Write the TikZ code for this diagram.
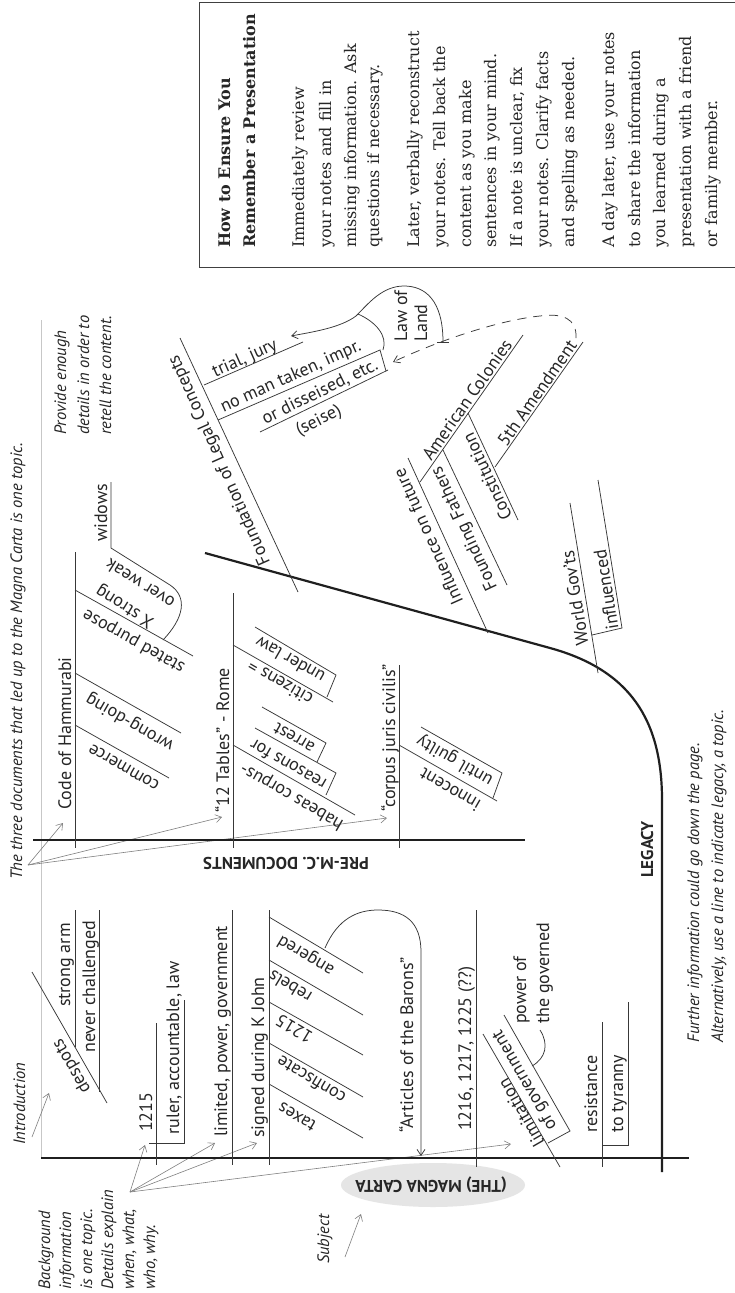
\documentclass[tikz,border=0pt]{standalone}
\usepackage{fontspec}
\setmainfont{PT Sans}
\newfontfamily\boxfont{DejaVu Serif}
\usetikzlibrary{arrows.meta}
\begin{document}
\begin{tikzpicture}[x=1pt,y=-1pt,
  ln/.style={draw=black!78, line width=0.75pt},
  thk/.style={draw=black!88, line width=2.2pt},
  ann/.style={draw=black!50, line width=0.6pt, -{Straight Barb[length=6pt,width=8pt]}},
  arr/.style={-{Straight Barb[length=6pt,width=8pt]}},
  dg/.style={font=\fontsize{18}{22}\selectfont, inner sep=0pt, text=black!85},
  ital/.style={font=\fontsize{16.5}{20}\selectfont\itshape, inner sep=0pt, text=black!85},
  bx/.style={font=\boxfont\fontsize{16}{20}\selectfont, inner sep=0pt, text=black!85},
  bxb/.style={font=\boxfont\bfseries\fontsize{16}{20}\selectfont, inner sep=0pt, text=black!85},
  lbl/.style={font=\bfseries\fontsize{17}{20}\selectfont, inner sep=0pt, text=black!85},
  vt/.style={rotate=90, anchor=base west},
]
\useasboundingbox (0,0) rectangle (735,1293);
\fill[white] (0,0) rectangle (735,1293);

% ---------- info box ----------
\draw[draw=black!75, line width=0.7pt] (199,2) rectangle (745,267);
\node[bxb,vt] (h1) at (230,248) {How to Ensure You};
\node[bxb,vt] (h2) at (255,248) {Remember a Presentation};
\node[bx,vt] (p1) at (304,248) {Immediately review};
\node[bx,vt] (p2) at (331,248) {your notes and fill in};
\node[bx,vt] (p3) at (356,248) {missing information. Ask};
\node[bx,vt] (p4) at (379,248) {questions if necessary.};
\node[bx,vt] (q1) at (419,248) {Later, verbally reconstruct};
\node[bx,vt] (q2) at (445,248) {your notes. Tell back the};
\node[bx,vt] (q3) at (471,248) {content as you make};
\node[bx,vt] (q4) at (496,248) {sentences in your mind.};
\node[bx,vt] (q5) at (522,248) {If a note is unclear, fix};
\node[bx,vt] (q6) at (548,248) {your notes. Clarify facts};
\node[bx,vt] (q7) at (574,248) {and spelling as needed.};
\node[bx,vt] (r1) at (614,248) {A day later, use your notes};
\node[bx,vt] (r2) at (640,248) {to share the information};
\node[bx,vt] (r3) at (665,248) {you learned during a};
\node[bx,vt] (r4) at (691,248) {presentation with a friend};
\node[bx,vt] (r5) at (717,248) {or family member.};

% ---------- annotations ----------
\draw[black!22, line width=0.8pt] (41,320) -- (41,1158);
\node[ital,vt] (three) at (22,880) {The three documents that led up to the Magna Carta is one topic.};
\node[ital,vt] (prov1) at (66,435) {Provide enough};
\node[ital,vt] (prov2) at (89,435) {details in order to};
\node[ital,vt] (prov3) at (111,435) {retell the content.};
\node[ital,vt] (intro) at (25,1145) {Introduction};
\node[ital,vt] (subj) at (329,1264) {Subject};
\node[ital,vt] (bg1) at (50,1290) {Background};
\node[ital,vt] (bg2) at (71,1290) {information};
\node[ital,vt] (bg3) at (92,1290) {is one topic.};
\node[ital,vt] (bg4) at (113,1290) {Details explain};
\node[ital,vt] (bg5) at (134,1290) {when, what,};
\node[ital,vt] (bg6) at (155,1290) {who, why.};
\node[ital,vt] (fur1) at (699,1043) {Further information could go down the page.};
\node[ital,vt] (fur2) at (723,1043) {Alternatively, use a line to indicate legacy, a topic.};

\coordinate (o1) at (28,865);
\coordinate (t1) at (63,823);
\coordinate (t2) at (222,817);
\coordinate (t3) at (387,818);
\draw[ann] (o1) -- (t1);
\draw[ann] (o1) -- (t2);
\draw[ann] (o1) -- (t3);
\coordinate (o2) at (130,1192);
\coordinate (b1) at (145,1145);
\coordinate (b2) at (215,1143);
\coordinate (b3) at (257,1143);
\coordinate (b4) at (511,1144);
\draw[ann] (o2) -- (b1);
\draw[ann] (o2) -- (b2);
\draw[ann] (o2) -- (b3);
\draw[ann] (o2) -- (b4);
\coordinate (io) at (32,1137);
\coordinate (it) at (49,1093);
\draw[ann] (io) -- (it);
\coordinate (so) at (345,1257);
\coordinate (st) at (361,1214);
\draw[ann] (so) -- (st);

% ---------- main spines ----------
\draw[thk] (33,840) -- (525,840);
\draw[thk] (41,1158) -- (689,1158);
\draw[thk] (205,553) -- (550,648) .. controls (630,670) and (662,720) .. (662,800) -- (662,1172);

\node[lbl,rotate=180] (pre) at (286,863) {PRE-M.C. DOCUMENTS};
\fill[black!10] (433,1185) ellipse [x radius=92, y radius=22];
\node[lbl,rotate=180] (mc) at (431,1185) {(THE) MAGNA CARTA};
\node[lbl,vt] (legacy) at (653,878) {LEGACY};

% ---------- pre-M.C. documents ----------
\draw[ln] (75,552) -- (75,848);
\draw[ln] (233,593) -- (233,848);
\draw[ln] (399,665) -- (399,848);
\node[dg,vt] (code) at (71,810) {Code of Hammurabi};
\node[dg,vt] (tables) at (229,813) {“12 Tables” - Rome};
\node[dg,vt] (corpus) at (395,812) {“corpus juris civilis”};
\node[dg,vt] (widows) at (107,542) {widows};
\draw[ln] (111,482) -- (111,548) -- (170,585) .. controls (188,597) and (184,618) .. (163,640);
\draw[ln] (75,590) -- (193,656);
\draw[ln] (75,673) -- (181,733);
\draw[ln] (75,725) -- (169,778);
\node[dg,rotate=148] (overweak) at (140,584) {over weak};
\node[dg,rotate=148] (xstrong) at (125,606) {X strong};
\node[dg,rotate=151] (stated) at (134,641) {stated purpose};
\node[dg,rotate=150] (wrong) at (130,722) {wrong-doing};
\node[dg,rotate=150] (commerce) at (124,767) {commerce};
\draw[ln] (255,627) -- (336,675) -- (327,697);
\draw[ln] (233,645) -- (333,702);
\draw[ln] (262,707) -- (326,743) -- (317,762);
\draw[ln] (255,728) -- (336,773) -- (326,795);
\draw[ln] (233,745) -- (355,815);
\node[dg,rotate=150] (underlaw) at (290,660) {under law};
\node[dg,rotate=150] (citizens) at (280,683) {citizens =};
\node[dg,rotate=150] (arrest) at (294,738) {arrest};
\node[dg,rotate=150] (reasons) at (288,765) {reasons for};
\node[dg,rotate=150] (habeas) at (292,796) {habeas corpus-};
\draw[ln] (421,727) -- (502,773) -- (493,798);
\draw[ln] (399,745) -- (497,801);
\node[dg,rotate=150] (until) at (455,760) {until guilty};
\node[dg,rotate=150] (innocent) at (450,790) {innocent};

% ---------- the Magna Carta ----------
\draw[ln] (32,972) -- (107,1103);
\node[dg,rotate=120] (despots) at (72,1066) {despots};
\draw[ln] (75,910) -- (75,1047);
\draw[ln] (99,910) -- (99,1092);
\node[dg,vt] (strong) at (70,1007) {strong arm};
\node[dg,vt] (never) at (95,1053) {never challenged};
\draw[ln] (156,1023) -- (156,1165);
\draw[ln] (149,1143) -- (184,1143) -- (184,1000);
\node[dg,vt] (y1215) at (152,1132) {1215};
\node[dg,vt] (ruler) at (179,1135) {ruler, accountable, law};
\draw[ln] (232,910) -- (232,1165);
\node[dg,vt] (limited) at (227,1137) {limited, power, government};
\draw[ln] (269,910) -- (269,1165);
\node[dg,vt] (signed) at (264,1138) {signed during K John};
\foreach \a/\b in {917/973, 960/1015, 1002/1055, 1043/1097, 1084/1138}
  \draw[ln] (269,\a) -- (363,\b);
\node[dg,rotate=149] (angered) at (306,955) {angered};
\node[dg,rotate=149] (rebels) at (290,987) {rebels};
\node[dg,rotate=149] (d1215) at (294,1029) {1215};
\node[dg,rotate=149] (confiscate) at (311,1080) {confiscate};
\node[dg,rotate=149] (taxes) at (297,1117) {taxes};
\draw[ln,arr] (325,948) .. controls (338,918) and (358,910) .. (378,910) .. controls (405,910) and (421,922) .. (421,952) -- (421,1156);
\node[dg,vt] (articles) at (413,1133) {“Articles of the Barons”};
\draw[ln] (476,910) -- (476,1167);
\node[dg,vt] (dates) at (471,1131) {1216, 1217, 1225 (??)};
\draw[ln] (483,1034) -- (560,1167);
\draw[ln] (504,1015) -- (570,1131) -- (548,1143);
\node[dg,rotate=120] (limitation) at (521,1113) {limitation};
\node[dg,rotate=120] (ofgov) at (525,1080) {of government};
\node[dg,vt] (power) at (526,1024) {power of};
\node[dg,vt] (governed) at (549,1024) {the governed};
\draw[ln] (540,1030) .. controls (549,1044) and (546,1058) .. (532,1066);
\draw[ln] (602,1022) -- (602,1167);
\draw[ln] (603,1145) -- (628,1145) -- (628,1002);
\node[dg,vt] (resist) at (597,1133) {resistance};
\node[dg,vt] (tyranny) at (623,1133) {to tyranny};

% ---------- legacy ----------
\draw[ln] (180,338) -- (298,592);
\node[dg,rotate=114] (found) at (220,460) {Foundation of Legal Concepts};
\draw[ln] (204,385) -- (303,342);
\node[dg,rotate=24] (trial) at (245,359) {trial, jury};
\draw[ln] (218,420) -- (380,350) -- (386,371);
\draw[ln] (260,432) -- (388,370);
\node[dg,rotate=24] (noman) at (291,377) {no man taken, impr.};
\node[dg,rotate=26] (disseised) at (320,392) {or disseised, etc.};
\node[dg,rotate=27] (seise) at (319,421) {(seise)};
\node[dg,vt] (lawof) at (407,342) {Law of};
\node[dg,vt] (land) at (427,342) {Land};
\draw[ln,arr] (443,342) .. controls (443,300) and (425,286) .. (404,286) .. controls (382,286) and (368,304) .. (356,316) .. controls (340,328) and (312,332) .. (291,336);
\draw[ln] (358,314) .. controls (376,322) and (388,336) .. (383,350);
\draw[ln] (437,342) -- (449,342);
\draw[ln,arr,dash pattern=on 9pt off 7pt] (576,338) .. controls (577,318) and (562,313) .. (540,316) .. controls (500,320) and (440,340) .. (393,362);
\draw[ln] (408,458) -- (488,633);
\node[dg,rotate=114] (influence) at (428,537) {Influence on future};
\draw[ln] (420,482) -- (523,335);
\node[dg,rotate=55] (american) at (467,400) {American Colonies};
\draw[ln] (443,450) -- (507,585);
\node[dg,rotate=115] (founding) at (465,528) {Founding Fathers};
\draw[ln] (468,413) -- (518,520);
\node[dg,rotate=115] (constitution) at (487,477) {Constitution};
\draw[ln] (495,467) -- (583,342);
\node[dg,rotate=55] (fifth) at (537,393) {5th Amendment};
\draw[ln] (570,503) -- (598,673);
\node[dg,rotate=99] (world) at (575,598) {World Gov’ts};
\draw[ln] (592,635) -- (622,628) -- (598,480);
\node[dg,rotate=99] (influenced) at (606,590) {influenced};
\end{tikzpicture}
\end{document}
